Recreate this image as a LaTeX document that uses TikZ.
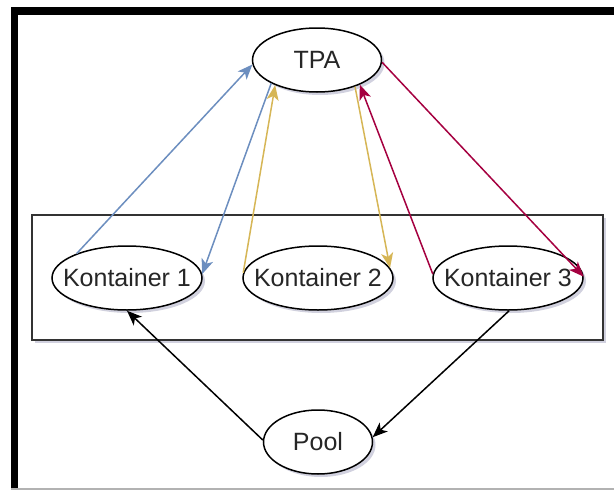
\documentclass[tikz,border=0pt]{standalone}
\usepackage{fontspec}
\setmainfont{Liberation Sans}
\usetikzlibrary{shapes.geometric,arrows.meta,shadows}
\definecolor{flowblue}{HTML}{6C8EBF}
\definecolor{flowyellow}{HTML}{D6B656}
\definecolor{flowred}{HTML}{A50040}
\begin{document}
\begin{tikzpicture}[x=1pt,y=-1pt,
  softshadow/.style={drop shadow={shadow xshift=3pt, shadow yshift=-3pt, opacity=.18, fill=black!70!blue}},
  state/.style={ellipse, draw=black, line width=1.5pt, fill=white, inner sep=0pt,
    minimum height=64pt, softshadow},
  every label/.style={font=\fontsize{25}{30}\selectfont, text=black!85},
  link/.style={line width=1.5pt, -{Stealth[length=15pt,width=12pt,inset=4pt]}},
]
\useasboundingbox (0,0) rectangle (614,490);

% page frame
\fill[black] (11,7) rectangle (18,490);
\fill[black] (11,7) rectangle (614,15);
\draw[black!30, line width=1.5pt] (11,489) -- (614,489);

% group around the containers
\node[draw=black!80, line width=1.5pt, fill=white, inner sep=0pt,
  minimum width=571pt, minimum height=125pt, softshadow] (grp) at (317.5,277.5) {};

% nodes
\node[state, minimum width=129pt, label=center:TPA] (tpa) at (317,60) {};
\node[state, minimum width=150pt, label=center:Kontainer 1] (k1) at (127,278) {};
\node[state, minimum width=150pt, label=center:Kontainer 2] (k2) at (318,278) {};
\node[state, minimum width=150pt, label=center:Kontainer 3] (k3) at (508,278) {};
\node[state, minimum width=109pt, label=center:Pool] (pool) at (318,442) {};

% exchanges with TPA
\draw[link, flowblue] (k1.154) -- (tpa.184);
\draw[link, flowblue] (tpa.207) -- (k1.3);
\draw[link, flowyellow] (k2.176) -- (tpa.211);
\draw[link, flowyellow] (tpa.325) -- (k2.8);
\draw[link, flowred] (k3.177) -- (tpa.330);
\draw[link, flowred] (tpa.358) -- (k3.1);

% pool cycle
\draw[link, black] (pool.178) -- (k1.270);
\draw[link, black] (k3.272) -- (pool.5);
\end{tikzpicture}
\end{document}
